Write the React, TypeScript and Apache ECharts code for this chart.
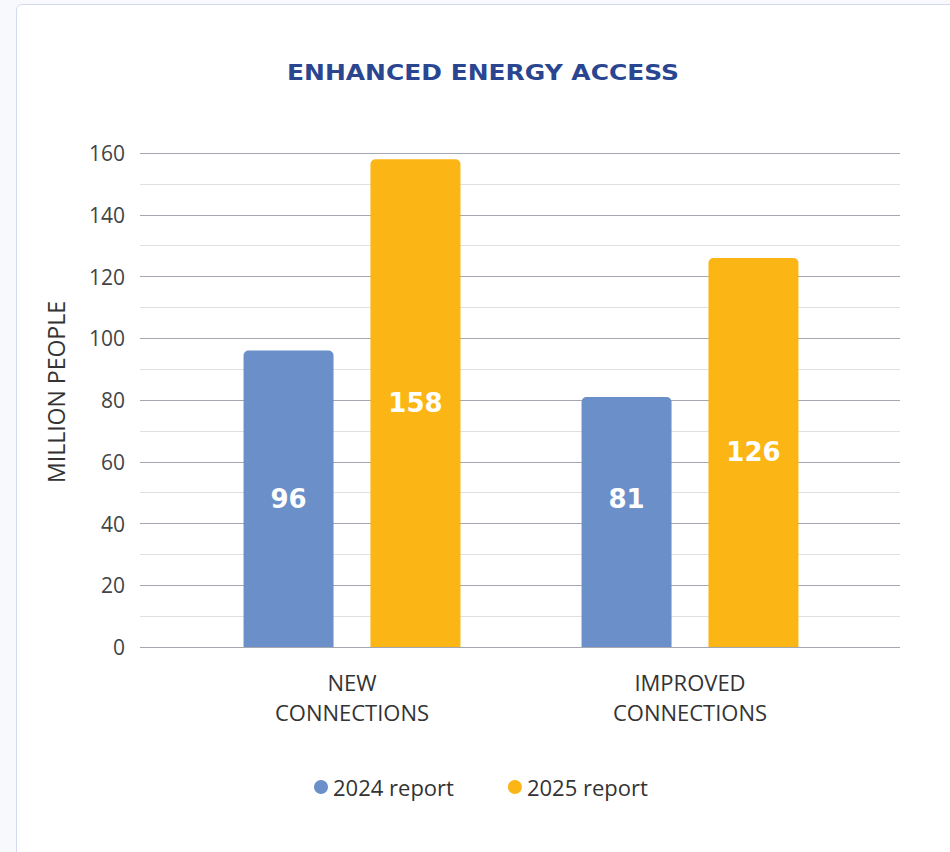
import React, { useEffect, useRef } from "react";
import * as echarts from "echarts";

const categories = ["NEW\nCONNECTIONS", "IMPROVED\nCONNECTIONS"];
const seriesNames = ["2024 report", "2025 report"];
const values2024 = [96, 81];
const values2025 = [158, 126];
const yTicks = { min: 0, max: 160, interval: 20 };
const titleText = "ENHANCED ENERGY ACCESS";
const axisName = "MILLION PEOPLE";

const BLUE = "#6b8fc9";
const YELLOW = "#fbb616";
const FONT = "'Open Sans', 'Noto Sans', sans-serif";

export default function App() {
  const ref = useRef<HTMLDivElement>(null);
  useEffect(() => {
    if (!ref.current) return;
    const chart = echarts.init(ref.current, undefined, { renderer: "svg" });
    const labelCfg = {
      show: true,
      position: "inside",
      color: "#ffffff",
      fontSize: 26,
      fontWeight: "bold",
      fontFamily: "'DejaVu Sans', sans-serif",
    };
    chart.setOption({
      animation: false,
      graphic: [
        {
          type: "text",
          x: 483,
          y: 73,
          scaleX: 1.26,
          style: {
            text: titleText,
            fill: "#2a4690",
            fontSize: 22,
            fontWeight: "bold",
            fontFamily: "'DejaVu Sans Condensed', 'DejaVu Sans', sans-serif",
            textAlign: "center",
            textVerticalAlign: "middle",
          },
        },
      ],
      legend: {
        data: seriesNames,
        left: 309,
        top: 771,
        icon: "circle",
        itemWidth: 14,
        itemHeight: 14,
        itemGap: 54,
        textStyle: { color: "#333", fontSize: 22, fontFamily: FONT },
      },
      grid: [
        { left: 140, right: 50, top: 153, bottom: 205 },
        { left: 183, right: 91, top: 153, bottom: 205 },
      ],
      xAxis: [
        { type: "category", gridIndex: 0, data: categories, show: false },
        {
          type: "category",
          gridIndex: 1,
          data: categories,
          axisLine: { show: false },
          axisTick: { show: false },
          axisLabel: {
            color: "#333",
            fontSize: 22,
            lineHeight: 30,
            margin: 20,
            fontFamily: FONT,
          },
        },
      ],
      yAxis: [
        {
          type: "value",
          gridIndex: 0,
          min: yTicks.min,
          max: yTicks.max,
          interval: yTicks.interval,
          name: axisName,
          nameLocation: "middle",
          nameRotate: 90,
          nameGap: 73,
          nameTextStyle: { color: "#333", fontSize: 23, fontFamily: FONT, padding: [0, 0, 0, 16] },
          axisLine: { show: false },
          axisTick: { show: false },
          axisLabel: { color: "#444", fontSize: 21, margin: 15, fontFamily: FONT },
          splitLine: { show: true, lineStyle: { color: "#a4a7b0", width: 1 } },
          minorTick: { show: false, splitNumber: 2 },
          minorSplitLine: { show: true, lineStyle: { color: "#dfe0e4", width: 1 } },
        },
        {
          type: "value",
          gridIndex: 1,
          min: yTicks.min,
          max: yTicks.max,
          interval: yTicks.interval,
          show: false,
          splitLine: { show: false },
        },
      ],
      series: [
        {
          name: seriesNames[0],
          type: "bar",
          xAxisIndex: 1,
          yAxisIndex: 1,
          data: values2024.map((v, i) =>
            i === 1 ? { value: v, label: { offset: [0, -23] } } : v
          ),
          barWidth: 90,
          barGap: "41%",
          itemStyle: { color: BLUE, borderRadius: [5, 5, 0, 0] },
          label: labelCfg,
        },
        {
          name: seriesNames[1],
          type: "bar",
          xAxisIndex: 1,
          yAxisIndex: 1,
          data: values2025,
          barWidth: 90,
          barGap: "41%",
          itemStyle: { color: YELLOW, borderRadius: [5, 5, 0, 0] },
          label: labelCfg,
        },
      ],
    });
    return () => chart.dispose();
  }, []);

  return (
    <div style={{ position: "fixed", left: 0, top: 0, width: 950, height: 852, background: "#f8f9fc", overflow: "hidden" }}>
      <div
        style={{
          position: "absolute",
          left: 16,
          top: 4,
          width: 960,
          height: 900,
          background: "#ffffff",
          border: "1px solid #d4dbef",
          borderRadius: 6,
          boxSizing: "border-box",
        }}
      />
      <div ref={ref} style={{ position: "absolute", left: 0, top: 0, width: 950, height: 852 }} />
    </div>
  );
}
